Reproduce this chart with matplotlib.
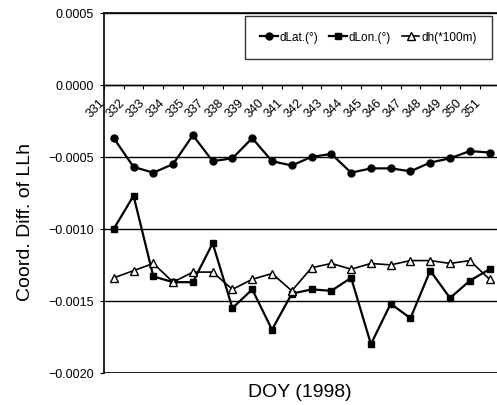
import numpy as np
import matplotlib
matplotlib.use('Agg')
import matplotlib.pyplot as plt

plt.rcParams['font.family'] = ['Liberation Sans', 'DejaVu Sans']

# DOY labels as printed (336 is missing in the original)
doy_labels = ['331', '332', '333', '334', '335', '337', '338', '339', '340', '341',
              '342', '343', '344', '345', '346', '347', '348', '349', '350', '351']

dlat = [-0.00037, -0.00057, -0.00061, -0.00055, -0.00035, -0.00053, -0.00051, -0.00037,
        -0.00053, -0.00056, -0.00050, -0.00048, -0.00061, -0.00058, -0.00058, -0.00060,
        -0.00054, -0.00051, -0.00046, -0.00047]
dlon = [-0.00100, -0.00077, -0.00133, -0.00137, -0.00137, -0.00110, -0.00155, -0.00142,
        -0.00170, -0.00145, -0.00142, -0.00143, -0.00134, -0.00180, -0.00152, -0.00162,
        -0.00129, -0.00148, -0.00136, -0.00128]
dh = [-0.00134, -0.00129, -0.00124, -0.00137, -0.00130, -0.00130, -0.00142, -0.00135,
      -0.00131, -0.00143, -0.00127, -0.00124, -0.00128, -0.00124, -0.00125, -0.00122,
      -0.00122, -0.00124, -0.00122, -0.00135]

yticks = [0.0005, 0.0, -0.0005, -0.0010, -0.0015, -0.0020]

x = np.arange(len(doy_labels))

fig = plt.figure(figsize=(4.97, 4.06), dpi=100)
ax = fig.add_axes([0.209, 0.079, 0.796, 0.887])

ax.plot(x, dlat, color='black', lw=1.6, marker='o', ms=5, label='dLat.(°)')
ax.plot(x, dlon, color='black', lw=1.6, marker='s', ms=5, label='dLon.(°)')
ax.plot(x, dh, color='black', lw=1.2, marker='^', ms=5.5, mfc='white', mec='black',
        label='dh(*100m)')

ax.set_xlim(-0.5, 19.5)
ax.set_ylim(-0.002, 0.0005)
ax.set_yticks(yticks)
ax.set_yticklabels(['%.4f' % v if v >= 0 else '\u2212%.4f' % abs(v) for v in yticks],
                   fontsize=9)
ax.yaxis.grid(True, color='black', lw=1)
ax.set_axisbelow(True)
ax.tick_params(axis='y', length=3, width=0.8, pad=4)

# category axis drawn at y = 0
ax.spines['bottom'].set_position(('data', 0))
ax.spines['bottom'].set_linewidth(1)
ax.axhline(-0.002, color='black', lw=1.2)
ax.spines['left'].set_linewidth(1.2)
ax.spines['top'].set_linewidth(1.2)
ax.spines['right'].set_visible(False)

ax.set_xticks(x - 0.5)
ax.set_xticklabels([])
ax.tick_params(axis='x', which='major', length=3, width=0.8, direction='out')
ax.set_xticks(x - 0.3, minor=True)
ax.set_xticklabels(doy_labels, minor=True, rotation=45, ha='right', fontsize=9)
ax.tick_params(axis='x', which='minor', length=0, pad=8)

fig.text(0.052, 0.452, 'Coord. Diff. of LLh', rotation=90, ha='center', va='center',
         fontsize=14)
fig.text(0.604, 0.034, 'DOY (1998)', ha='center', va='center', fontsize=14)

leg = ax.legend(loc='upper right', bbox_to_anchor=(0.990, 0.958),
                bbox_transform=fig.transFigure, ncol=3, fontsize=8.5,
                frameon=True, fancybox=False, edgecolor='black', borderpad=1.3,
                handlelength=1.5, handletextpad=0.15, columnspacing=0.9, borderaxespad=0)
leg.get_frame().set_linewidth(1)

fig.savefig('out.png', dpi=100)
